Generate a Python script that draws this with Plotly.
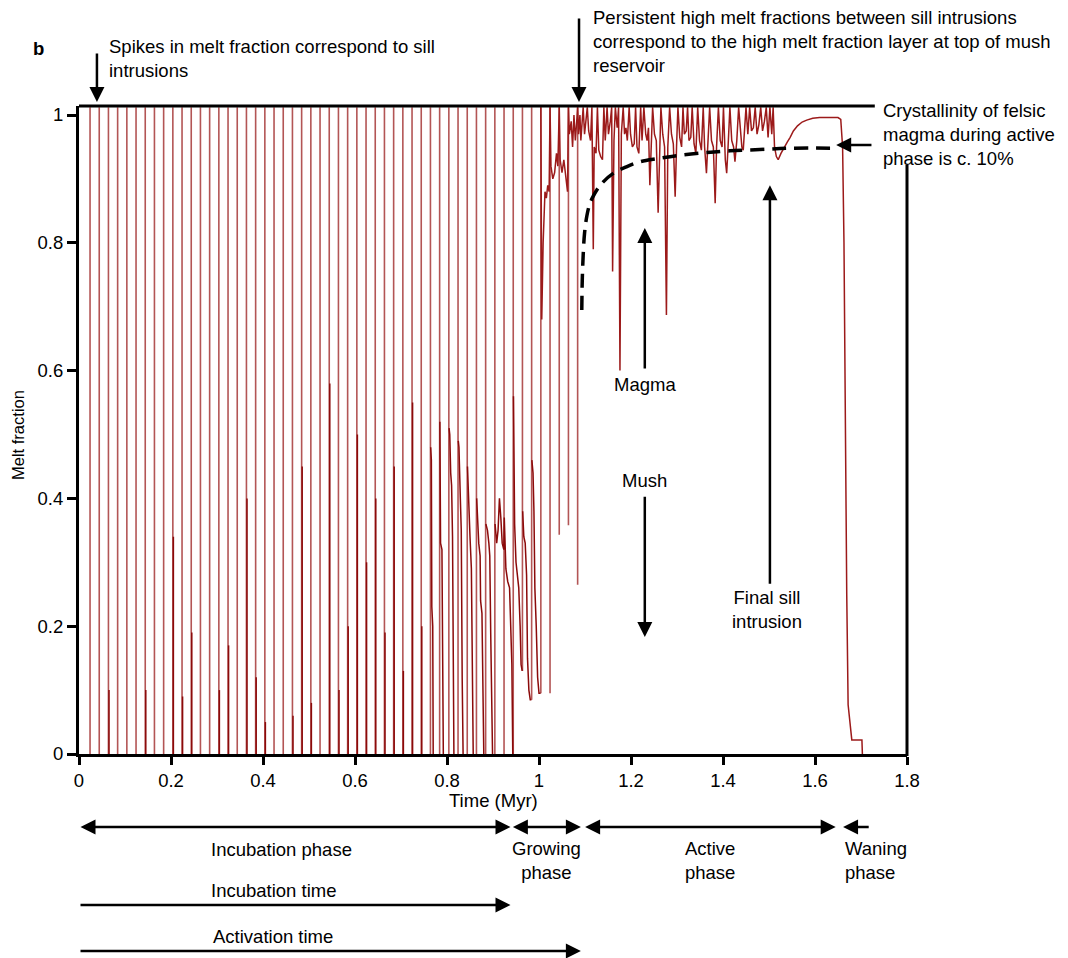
import plotly.graph_objects as go

# ---------------------------------------------------------------- data
# Times of the sill intrusions before the active phase (Myr)
sill_t = [0.024, 0.044, 0.064, 0.084, 0.104, 0.124, 0.144, 0.164, 0.184, 0.204,
          0.224, 0.244, 0.264, 0.284, 0.304, 0.324, 0.344, 0.364, 0.384, 0.404,
          0.424, 0.444, 0.464, 0.484, 0.504, 0.524, 0.544, 0.564, 0.584, 0.604,
          0.624, 0.644, 0.664, 0.684, 0.704, 0.724, 0.744, 0.764, 0.784, 0.804,
          0.824, 0.844, 0.864, 0.884, 0.904, 0.924, 0.944, 0.964, 0.984, 1.004,
          1.024, 1.044, 1.064, 1.084]
# Melt fraction from which each sill spike rises
sill_base = [0, 0, 0, 0, 0, 0, 0, 0, 0, 0,
             0, 0, 0, 0, 0, 0, 0, 0, 0, 0,
             0, 0, 0, 0, 0, 0, 0, 0, 0, 0,
             0, 0, 0, 0, 0, 0, 0, 0, 0, 0,
             0, 0, 0, 0, 0, 0, 0, 0.13, 0.085, 0.095,
             0.095, 0.343, 0.358, 0.265]
sill_peak = 1.012
# Height of the slow-cooling tail after each incubation-phase sill
tail_v = [0, 0, 0.10, 0, 0, 0, 0.10, 0, 0, 0.34,
          0.09, 0.19, 0, 0, 0.10, 0.17, 0, 0.40, 0.12, 0.05,
          0, 0, 0.06, 0.45, 0.08, 0, 0.58, 0.10, 0.20, 0.50,
          0.30, 0.40, 0.19, 0.45, 0.13, 0.55, 0.20]

# Cooling of the mush between sills late in the incubation / growing phase
mush_t = [0.7645, 0.766, 0.767, 0.769, 0.770, None,
          0.7845, 0.786, 0.789, 0.790, 0.792, None,
          0.8045, 0.806, 0.808, 0.810, 0.812, 0.813, 0.815, None,
          0.8245, 0.826, 0.829, 0.831, 0.833, 0.835, None,
          0.8445, 0.847, 0.850, 0.853, 0.855, 0.857, None,
          0.8645, 0.867, 0.869, 0.872, 0.873, 0.876, 0.878, 0.880, None,
          0.8845, 0.888, 0.891, 0.893, 0.895, 0.897, 0.899, None,
          0.9045, 0.908, 0.911, 0.914, 0.917, 0.920, 0.9235, 0.9245, 0.928,
          0.932, 0.936, 0.939, 0.941, 0.943, None,
          0.9445, 0.946, 0.947, 0.950, 0.953, 0.956, 0.959, 0.961, 0.9635, None,
          0.9645, 0.967, 0.970, 0.973, 0.975, 0.978, 0.981, 0.9835, None,
          0.9845, 0.987, 0.989, 0.991, 0.994, 0.997, 1.000, 1.0035]
mush_v = [0.48, 0.46, 0.23, 0.20, 0.0, None,
          0.52, 0.33, 0.32, 0.11, 0.0, None,
          0.51, 0.50, 0.44, 0.42, 0.34, 0.10, 0.0, None,
          0.49, 0.48, 0.40, 0.35, 0.12, 0.0, None,
          0.45, 0.38, 0.34, 0.29, 0.10, 0.0, None,
          0.40, 0.36, 0.33, 0.31, 0.24, 0.22, 0.05, 0.0, None,
          0.36, 0.35, 0.33, 0.31, 0.19, 0.08, 0.0, None,
          0.36, 0.33, 0.35, 0.40, 0.37, 0.33, 0.32, 0.37, 0.29,
          0.27, 0.26, 0.20, 0.14, 0.0, None,
          0.56, 0.45, 0.36, 0.30, 0.28, 0.26, 0.20, 0.14, 0.13, None,
          0.38, 0.34, 0.33, 0.28, 0.15, 0.10, 0.085, 0.085, None,
          0.46, 0.44, 0.38, 0.26, 0.20, 0.12, 0.095, 0.095]

# Melt fraction of the upper reservoir: growing, active and waning phases
melt_t = [1.004, 1.006, 1.009, 1.013, 1.016, 1.019, 1.022, 1.024, 1.026, 1.030,
          1.034, 1.038, 1.041, 1.044, 1.046, 1.050, 1.054, 1.058, 1.062, 1.064,
          1.066, 1.070, 1.073, 1.076, 1.079, 1.082, 1.084, 1.086, 1.089, 1.091,
          1.094, 1.096, 1.099, 1.102, 1.105, 1.108, 1.112, 1.115, 1.118, 1.120,
          1.124, 1.127, 1.130, 1.134, 1.138, 1.141, 1.144, 1.148, 1.151, 1.155,
          1.158, 1.160, 1.163, 1.166, 1.170, 1.173, 1.176, 1.179, 1.183, 1.186,
          1.189, 1.192, 1.196, 1.199, 1.203, 1.207, 1.210, 1.213, 1.217, 1.221,
          1.224, 1.228, 1.232, 1.235, 1.238, 1.241, 1.244, 1.247, 1.251, 1.255,
          1.259, 1.262, 1.265, 1.269, 1.273, 1.277, 1.280, 1.284, 1.288, 1.292,
          1.296, 1.299, 1.302, 1.306, 1.310, 1.313, 1.316, 1.320, 1.323, 1.326,
          1.330, 1.333, 1.337, 1.341, 1.345, 1.349, 1.353, 1.357, 1.360, 1.364,
          1.367, 1.371, 1.375, 1.379, 1.383, 1.386, 1.390, 1.394, 1.398, 1.401,
          1.405, 1.408, 1.411, 1.415, 1.419, 1.423, 1.426, 1.430, 1.434, 1.438,
          1.441, 1.444, 1.447, 1.450, 1.454, 1.458, 1.462, 1.466, 1.470, 1.474,
          1.478, 1.482, 1.486, 1.490, 1.494, 1.498, 1.502, 1.506, 1.509, 1.512,
          1.516, 1.520, 1.526, 1.533, 1.540, 1.546, 1.553, 1.562, 1.572, 1.582,
          1.595, 1.610, 1.630, 1.650, 1.656, 1.660, 1.663, 1.666, 1.669, 1.672,
          1.676, 1.680, 1.690, 1.702, 1.703]
melt_v = [1.012, 0.68, 0.80, 0.88, 0.87, 0.89, 0.88, 1.012, 0.92, 0.90,
          0.91, 0.94, 0.92, 1.012, 0.93, 0.91, 0.93, 0.90, 0.88, 1.012,
          0.97, 0.99, 0.95, 1.00, 0.96, 0.99, 1.012, 0.97, 1.00, 0.96,
          0.99, 1.012, 0.97, 0.99, 1.012, 0.975, 0.96, 1.012, 0.79, 0.95,
          0.94, 1.012, 0.945, 0.935, 0.93, 1.012, 0.96, 1.012, 0.97, 0.99,
          1.012, 0.755, 0.96, 1.012, 0.98, 1.012, 0.60, 0.97, 1.012, 0.97,
          0.98, 0.96, 1.012, 0.97, 0.95, 0.955, 1.012, 0.95, 0.94, 1.012,
          0.96, 1.012, 0.97, 0.96, 0.98, 0.89, 0.96, 1.012, 0.97, 0.96,
          0.847, 0.95, 1.012, 0.97, 0.95, 0.687, 0.95, 1.012, 0.97, 0.955,
          0.872, 0.95, 1.012, 0.965, 0.95, 1.012, 0.97, 0.975, 1.012, 0.96,
          0.965, 1.012, 0.955, 0.94, 1.012, 0.96, 0.945, 1.012, 0.95, 0.909,
          0.95, 1.012, 0.96, 0.95, 0.862, 0.95, 1.012, 0.96, 0.95, 1.012,
          0.93, 0.909, 0.95, 1.012, 0.96, 0.95, 0.927, 0.96, 1.012, 0.97,
          0.95, 0.945, 0.99, 1.012, 0.97, 1.012, 0.975, 0.98, 1.012, 0.97,
          0.985, 1.012, 0.975, 0.99, 1.012, 0.965, 1.012, 0.97, 1.012, 0.95,
          0.935, 0.93, 0.94, 0.95, 0.958, 0.965, 0.975, 0.983, 0.989, 0.992,
          0.995, 0.996, 0.996, 0.996, 0.993, 0.95, 0.80, 0.50, 0.25, 0.077,
          0.045, 0.022, 0.022, 0.022, 0.0]

# Crystallinity of the felsic magma in the active phase (dashed curve)
crystal_t = [1.093, 1.094, 1.096, 1.099, 1.104, 1.110, 1.118, 1.133, 1.162, 1.190,
             1.220, 1.260, 1.307, 1.360, 1.415, 1.480, 1.546, 1.643]
crystal_v = [0.695, 0.740, 0.780, 0.815, 0.842, 0.860, 0.873, 0.890, 0.909, 0.919,
             0.927, 0.932, 0.937, 0.941, 0.944, 0.946, 0.948, 0.948]

# Phase extents (Myr) shown below the time axis
phases = ["Incubation phase", "Growing<br>phase", "Active<br>phase", "Waning<br>phase"]
phase_start = [0.0, 0.940, 1.097, 1.661]
phase_end = [0.938, 1.091, 1.645, 1.720]
incubation_time = 0.938
activation_time = 1.091

x_ticks = [0, 0.2, 0.4, 0.6, 0.8, 1.0, 1.2, 1.4, 1.6, 1.8]
y_ticks = [0, 0.2, 0.4, 0.6, 0.8, 1.0]

# ---------------------------------------------------------------- style
FONT = "Liberation Sans, Arial, sans-serif"
FS = 18.5
RED_LIGHT = "rgba(150, 20, 20, 0.72)"
RED_DARK = "#8b0a0a"
RED_MID = "#9c1a1a"
X_MAX, Y_MAX = 1.8, 1.0141

# ---------------------------------------------------------------- traces
spike_x, spike_y = [], []
for t, b in zip(sill_t, sill_base):
    spike_x += [t, t, None]
    spike_y += [b, sill_peak, None]

tail_x, tail_y = [], []
for t, h in zip(sill_t, tail_v):
    if h > 0:
        tail_x += [t + 0.0012, t + 0.0012, None]
        tail_y += [0, h, None]

fig = go.Figure()
fig.add_trace(go.Scatter(x=spike_x, y=spike_y, mode="lines",
                         line=dict(color=RED_LIGHT, width=1.6), hoverinfo="skip"))
fig.add_trace(go.Scatter(x=tail_x, y=tail_y, mode="lines",
                         line=dict(color=RED_DARK, width=1.5), hoverinfo="skip"))
fig.add_trace(go.Scatter(x=mush_t, y=mush_v, mode="lines", connectgaps=False,
                         line=dict(color=RED_DARK, width=1.5), hoverinfo="skip"))
fig.add_trace(go.Scatter(x=melt_t, y=melt_v, mode="lines",
                         line=dict(color=RED_MID, width=1.5), hoverinfo="skip"))
fig.add_trace(go.Scatter(x=crystal_t, y=crystal_v, mode="lines",
                         line=dict(color="black", width=3.5, dash="14px,8px",
                                   shape="spline"),
                         hoverinfo="skip"))

# ---------------------------------------------------------------- annotations
AW, AS = 2.5, 1.2
ann = []


def text(t, y, s, xref="x", yref="paper", xanchor="center", align="center",
         size=FS, **kw):
    ann.append(dict(x=t, y=y, xref=xref, yref=yref, text=s, showarrow=False,
                    xanchor=xanchor, yanchor="middle", align=align,
                    font=dict(family=FONT, size=size, color="black"), **kw))


def arrow(x, y, ax, ay, xref="x", yref="y", axref="x", ayref="y", both=False):
    d = dict(x=x, y=y, ax=ax, ay=ay, xref=xref, yref=yref, axref=axref,
             ayref=ayref, text="", showarrow=True, arrowhead=2,
             arrowsize=AS, arrowwidth=AW, arrowcolor="black", standoff=0)
    if both:
        d.update(arrowside="end+start", startarrowhead=2, startarrowsize=AS,
                 startstandoff=0)
    ann.append(d)


# panel letter and axis titles
text(-0.0495, 1.0895, "<b>b</b>", xref="paper")
text(-0.0737, 0.4923, "Melt fraction", xref="paper", size=16.5, textangle=-90)
text(0.9, -0.071, "Time (Myr)")

# callouts above the plot
text(0.0609, 1.0733, "Spikes in melt fraction correspond to sill<br>intrusions",
     xanchor="left", align="left")
arrow(0.039, 1.0062, 0, -50, yref="paper", axref="pixel", ayref="pixel")
text(1.113, 1.0988, "Persistent high melt fractions between sill intrusions<br>"
     "correspond to the high melt fraction layer at top of mush<br>reservoir",
     xanchor="left", align="left")
arrow(1.087, 1.0062, 0, -85, yref="paper", axref="pixel", ayref="pixel")
text(1.7435, 0.9560, "Crystallinity of felsic<br>magma during active<br>phase is c. 10%",
     xanchor="left", align="left")
arrow(1.646, 0.953, 1.726, 0.953)

# labels inside the plot
text(1.2304, 0.5775, "Magma", yref="y")
arrow(1.230, 0.823, 1.230, 0.601)
text(1.2304, 0.4288, "Mush", yref="y")
arrow(1.230, 0.183, 1.230, 0.405)
text(1.4957, 0.2269, "Final sill<br>intrusion", yref="y")
arrow(1.502, 0.890, 1.502, 0.264)

# phases below the time axis
for name, t0, t1 in zip(phases, phase_start, phase_end):
    if name.startswith("Waning"):
        arrow(t0, -0.1127, t1, 0, yref="paper", ayref="pixel")
        text(t0, -0.1651, name, xanchor="left", align="left")
    elif "<br>" in name:
        arrow(t1, -0.1127, t0, 0, yref="paper", ayref="pixel", both=True)
        text((t0 + t1) / 2, -0.1651, name)
    else:
        arrow(t1, -0.1127, t0, 0, yref="paper", ayref="pixel", both=True)
        text(0.441, -0.1481, name)

text(0.423, -0.2099, "Incubation time")
arrow(incubation_time, -0.2330, 0.0, 0, yref="paper", ayref="pixel")
text(0.422, -0.2809, "Activation time")
arrow(activation_time, -0.3040, 0.0, 0, yref="paper", ayref="pixel")

# ---------------------------------------------------------------- layout
frame = dict(color="black", width=3)
fig.update_layout(
    width=1068, height=958,
    margin=dict(l=79, r=161, t=106, b=204),
    paper_bgcolor="white", plot_bgcolor="white",
    showlegend=False,
    font=dict(family=FONT, size=FS, color="black"),
    xaxis=dict(range=[0, X_MAX], tickvals=x_ticks, ticktext=[f"{v:g}" for v in x_ticks],
               showgrid=False, zeroline=False, showline=True, linecolor="black",
               linewidth=3, ticks="outside", ticklen=8, tickwidth=3,
               tickcolor="black", tickfont=dict(family=FONT, size=FS)),
    yaxis=dict(range=[0, Y_MAX], tickvals=y_ticks, ticktext=[f"{v:g}" for v in y_ticks],
               showgrid=False, zeroline=False, showline=True, linecolor="black",
               linewidth=3, ticks="outside", ticklen=9, tickwidth=3,
               tickcolor="black", tickfont=dict(family=FONT, size=FS)),
    shapes=[
        # top frame edge, stopping short of the right-hand callout
        dict(type="line", xref="paper", yref="paper", x0=0, x1=1.73 / X_MAX,
             y0=1, y1=1, line=frame, layer="above"),
        # right frame edge, below the callout text
        dict(type="line", xref="paper", yref="paper", x0=1, x1=1,
             y0=-0.003, y1=0.909, line=frame, layer="above"),
    ],
    annotations=ann,
)

fig.write_html("out.html")
